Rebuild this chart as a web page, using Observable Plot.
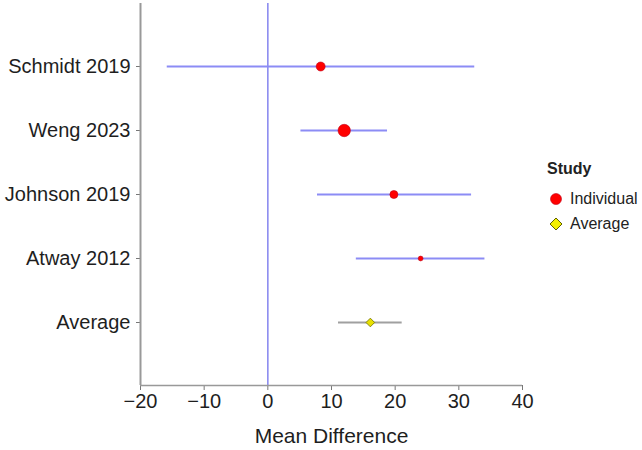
<!DOCTYPE html>
<html><head><meta charset="utf-8">
<script src="https://cdn.jsdelivr.net/npm/d3@7"></script>
<script src="https://cdn.jsdelivr.net/npm/@observablehq/plot@0.6"></script>
<style>
body{margin:0;background:#fff;font-family:"Liberation Sans",Arial,sans-serif;}
#wrap{position:relative;width:642px;height:450px;}
#legend{position:absolute;left:546px;top:160px;color:#222;}
#legend .title{font-weight:bold;font-size:16px;margin:0 0 8px 1px;}
#legend .row{display:flex;align-items:center;font-size:16px;height:25px;}
#legend svg{margin-right:4px;}
</style></head><body><div id="wrap"></div>
<script>
const studies = ["Schmidt 2019","Weng 2023","Johnson 2019","Atway 2012","Average"];
const estimates = [8.3, 12.0, 19.8, 24.0, 16.1];
const lower = [-15.8, 5.2, 7.8, 13.9, 11.1];
const upper = [32.5, 18.8, 32.0, 34.1, 21.1];
const markerSize = [4.5, 6.2, 4.0, 2.4, 3.9];
const types = ["Individual","Individual","Individual","Individual","Average"];
const xTicks = [-20, -10, 0, 10, 20, 30, 40];
const legendItems = ["Individual", "Average"];

const rows = studies.map((s, i) => ({study: s, est: estimates[i], lo: lower[i], hi: upper[i], r: markerSize[i], type: types[i]}));
const indiv = rows.filter(d => d.type === "Individual");
const avg = rows.filter(d => d.type === "Average");

const chart = Plot.plot({
  width: 642,
  height: 450,
  marginLeft: 140,
  marginRight: 120,
  marginTop: 3,
  marginBottom: 65,
  style: {fontFamily: '"Liberation Sans", Arial, sans-serif', fontSize: "20px", color: "#1e1e1e", background: "#fff"},
  x: {domain: [-20, 40], ticks: xTicks, label: null},
  y: {domain: studies, type: "point", padding: 0.98, label: null},
  r: {type: "identity"},
  marks: [
    Plot.ruleX([0], {stroke: "#8c8cf0", strokeWidth: 1.6}),
    Plot.ruleY(indiv, {y: "study", x1: "lo", x2: "hi", stroke: "#8c8cf5", strokeWidth: 2.2}),
    Plot.ruleY(avg, {y: "study", x1: "lo", x2: "hi", stroke: "#a0a0a0", strokeWidth: 2.2}),
    Plot.dot(indiv, {x: "est", y: "study", r: "r", fill: "#f00", stroke: "#c00018", strokeWidth: 0.6}),
    Plot.dot(avg, {x: "est", y: "study", r: "r", symbol: "diamond2", fill: "#e8e000", stroke: "#707000", strokeWidth: 0.8}),
    Plot.axisY({tickSize: 4, tickPadding: 6, stroke: "#777"}),
    Plot.ruleX([-20], {stroke: "#999", strokeWidth: 2}),
    Plot.axisX({ticks: xTicks, tickSize: 5, tickPadding: 3, stroke: "#777"}),
    Plot.ruleY([0], {x1: -20, x2: 40, y: () => studies[4], dy: 63, stroke: "#999", strokeWidth: 1.5}),
    Plot.text(["Mean Difference"], {frameAnchor: "bottom", dy: 57, fontSize: 21, fill: "#1e1e1e"})
  ]
});
document.getElementById("wrap").appendChild(chart);

// legend
const leg = document.createElement("div");
leg.id = "legend";
const t = document.createElement("div");
t.className = "title"; t.textContent = "Study";
leg.appendChild(t);
legendItems.forEach(name => {
  const row = document.createElement("div");
  row.className = "row";
  const sw = name === "Individual"
    ? '<svg width="20" height="16"><circle cx="10" cy="8" r="5.5" fill="#f00" stroke="#c00018" stroke-width="0.6"/></svg>'
    : '<svg width="20" height="16"><path d="M10 2 L16 8 L10 14 L4 8 Z" fill="#f4f000" stroke="#606000" stroke-width="1"/></svg>';
  row.innerHTML = sw + "<span>" + name + "</span>";
  leg.appendChild(row);
});
document.getElementById("wrap").appendChild(leg);
</script>
</body></html>
